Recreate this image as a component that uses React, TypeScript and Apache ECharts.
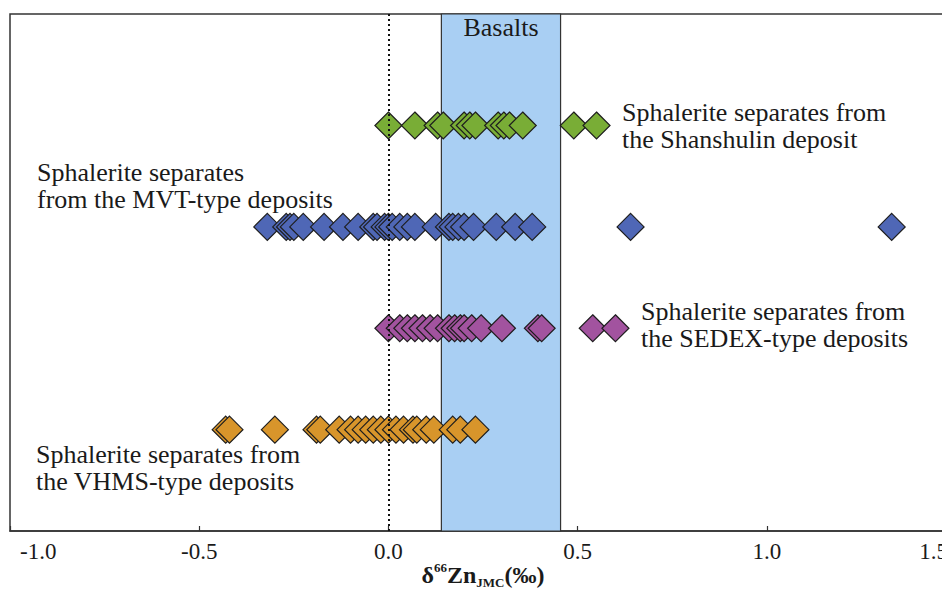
import React, { useEffect, useRef } from "react";
import * as echarts from "echarts";

// δ66Zn values (‰)
const shanshulin = [0.0, 0.07, 0.13, 0.145, 0.2, 0.215, 0.23, 0.29, 0.305, 0.32, 0.355, 0.49, 0.55];
const mvt = [-0.32, -0.27, -0.26, -0.25, -0.225, -0.17, -0.12, -0.08, -0.04, -0.03, -0.01, 0.0, 0.01, 0.03, 0.05, 0.07, 0.125, 0.16, 0.17, 0.185, 0.2, 0.225, 0.285, 0.335, 0.38, 0.64, 1.33];
const sedex = [0.0, 0.03, 0.05, 0.07, 0.09, 0.11, 0.13, 0.16, 0.175, 0.19, 0.2, 0.22, 0.245, 0.3, 0.395, 0.405, 0.54, 0.6];
const vhms = [-0.43, -0.42, -0.3, -0.19, -0.18, -0.13, -0.1, -0.08, -0.06, -0.04, -0.02, 0.0, 0.02, 0.04, 0.065, 0.075, 0.1, 0.12, 0.17, 0.19, 0.23];

// row levels on the hidden y axis
const rowShanshulin = 4;
const rowMvt = 3;
const rowSedex = 2;
const rowVhms = 1;

const basaltRange = [0.14, 0.455];
const xMin = -1.0;
const xMax = 1.5;
const xInterval = 0.5;

const labelShanshulin = "Sphalerite separates from\nthe Shanshulin deposit";
const labelMvt = "Sphalerite separates\nfrom the MVT-type deposits";
const labelSedex = "Sphalerite separates from\nthe SEDEX-type deposits";
const labelVhms = "Sphalerite separates from\nthe VHMS-type deposits";

const SERIF = "'Liberation Serif', 'Times New Roman', serif";

export default function App() {
  const ref = useRef<HTMLDivElement>(null);

  useEffect(() => {
    if (!ref.current) return;
    const chart = echarts.init(ref.current, null, { renderer: "svg" });

    const mk = (name: string, vals: number[], row: number, color: string) => ({
      name,
      type: "scatter",
      z: 3,
      symbol: "diamond",
      symbolSize: 27,
      data: vals.map((v) => [v, row]),
      itemStyle: { color, borderColor: "#1e1e1e", borderWidth: 1.2, opacity: 1 },
      emphasis: { disabled: true },
    });

    const textEl = (text: string, left: number, top: number) => ({
      type: "text",
      left,
      top,
      z: 10,
      style: {
        text,
        fontSize: 26,
        fontFamily: SERIF,
        fill: "#1a1a1a",
        lineHeight: 27,
      },
    });

    chart.setOption({
      animation: false,
      grid: {
        left: 2,
        top: 6,
        right: 12,
        bottom: 59,
        outerBoundsMode: "none",
        containLabel: false,
        show: true,
        borderColor: "#333",
        borderWidth: 1.5,
        backgroundColor: "transparent",
      },
      xAxis: {
        type: "value",
        min: xMin,
        max: xMax,
        interval: xInterval,
        splitLine: { show: false },
        axisLine: { show: true, lineStyle: { color: "#333", width: 1.5 } },
        axisTick: { show: true, inside: true, length: 5, lineStyle: { color: "#333", width: 1.2 } },
        axisLabel: {
          margin: 9,
          fontSize: 23,
          fontFamily: SERIF,
          color: "#1a1a1a",
          alignMinLabel: "left",
          alignMaxLabel: "right",
          formatter: (v: number) => {
            const s = v.toFixed(1);
            if (Math.abs(v - xMin) < 1e-9) return `{mn|${s}}`;
            if (Math.abs(v - xMax) < 1e-9) return `{mx|${s}}`;
            return s;
          },
          rich: {
            mn: { fontSize: 23, fontFamily: SERIF, color: "#1a1a1a", padding: [0, 0, 0, 10] },
            mx: { fontSize: 23, fontFamily: SERIF, color: "#1a1a1a", padding: [0, 8, 0, 0] },
          },
        },
        name: "{d|δ}{sup|66}{b|Zn}{sub|JMC}{b|(‰)}",
        nameLocation: "middle",
        nameGap: 30,
        nameMoveOverlap: false,
        nameTextStyle: {
          fontFamily: SERIF,
          fontWeight: "bold",
          color: "#1a1a1a",
          fontSize: 24,
          rich: {
            d: { fontFamily: SERIF, fontWeight: "bold", fontSize: 24, color: "#1a1a1a", lineHeight: 28 },
            b: { fontFamily: SERIF, fontWeight: "bold", fontSize: 24, color: "#1a1a1a", lineHeight: 28 },
            sup: { fontFamily: SERIF, fontWeight: "bold", fontSize: 13, color: "#1a1a1a", verticalAlign: "top", lineHeight: 28, padding: [0, 0, 12, 0] },
            sub: { fontFamily: SERIF, fontWeight: "bold", fontSize: 13, color: "#1a1a1a", verticalAlign: "bottom", lineHeight: 28, padding: [8, 0, 0, 0] },
          },
        },
      },
      yAxis: {
        type: "value",
        min: 0,
        max: 5.1,
        show: false,
        splitLine: { show: false },
      },
      series: [
        {
          name: "ref",
          type: "scatter",
          z: 1,
          data: [],
          silent: true,
          markArea: {
            silent: true,
            itemStyle: { color: "#a9cff3", borderColor: "#333", borderWidth: 1.2 },
            label: {
              show: true,
              position: "insideTop",
              distance: 1,
              fontSize: 26,
              fontFamily: SERIF,
              color: "#1a1a1a",
            },
            data: [[{ name: "Basalts", xAxis: basaltRange[0] }, { xAxis: basaltRange[1] }]],
          },
          markLine: {
            silent: true,
            symbol: ["none", "none"],
            label: { show: false },
            lineStyle: { color: "#111", type: [2, 3], width: 2 },
            data: [{ xAxis: 0 }],
          },
        },
        mk("Shanshulin", shanshulin, rowShanshulin, "#79ad36"),
        mk("MVT", mvt, rowMvt, "#4f67b6"),
        mk("SEDEX", sedex, rowSedex, "#a2539f"),
        mk("VHMS", vhms, rowVhms, "#d8952b"),
      ],
      graphic: [
        textEl(labelShanshulin, 614, 91),
        textEl(labelMvt, 29, 151),
        textEl(labelSedex, 633, 290),
        textEl(labelVhms, 28, 433),
      ],
    });

    return () => chart.dispose();
  }, []);

  return (
    <div style={{ width: 942, height: 582, overflow: "hidden" }}>
      <div ref={ref} style={{ width: 960, height: 582 }} />
    </div>
  );
}
